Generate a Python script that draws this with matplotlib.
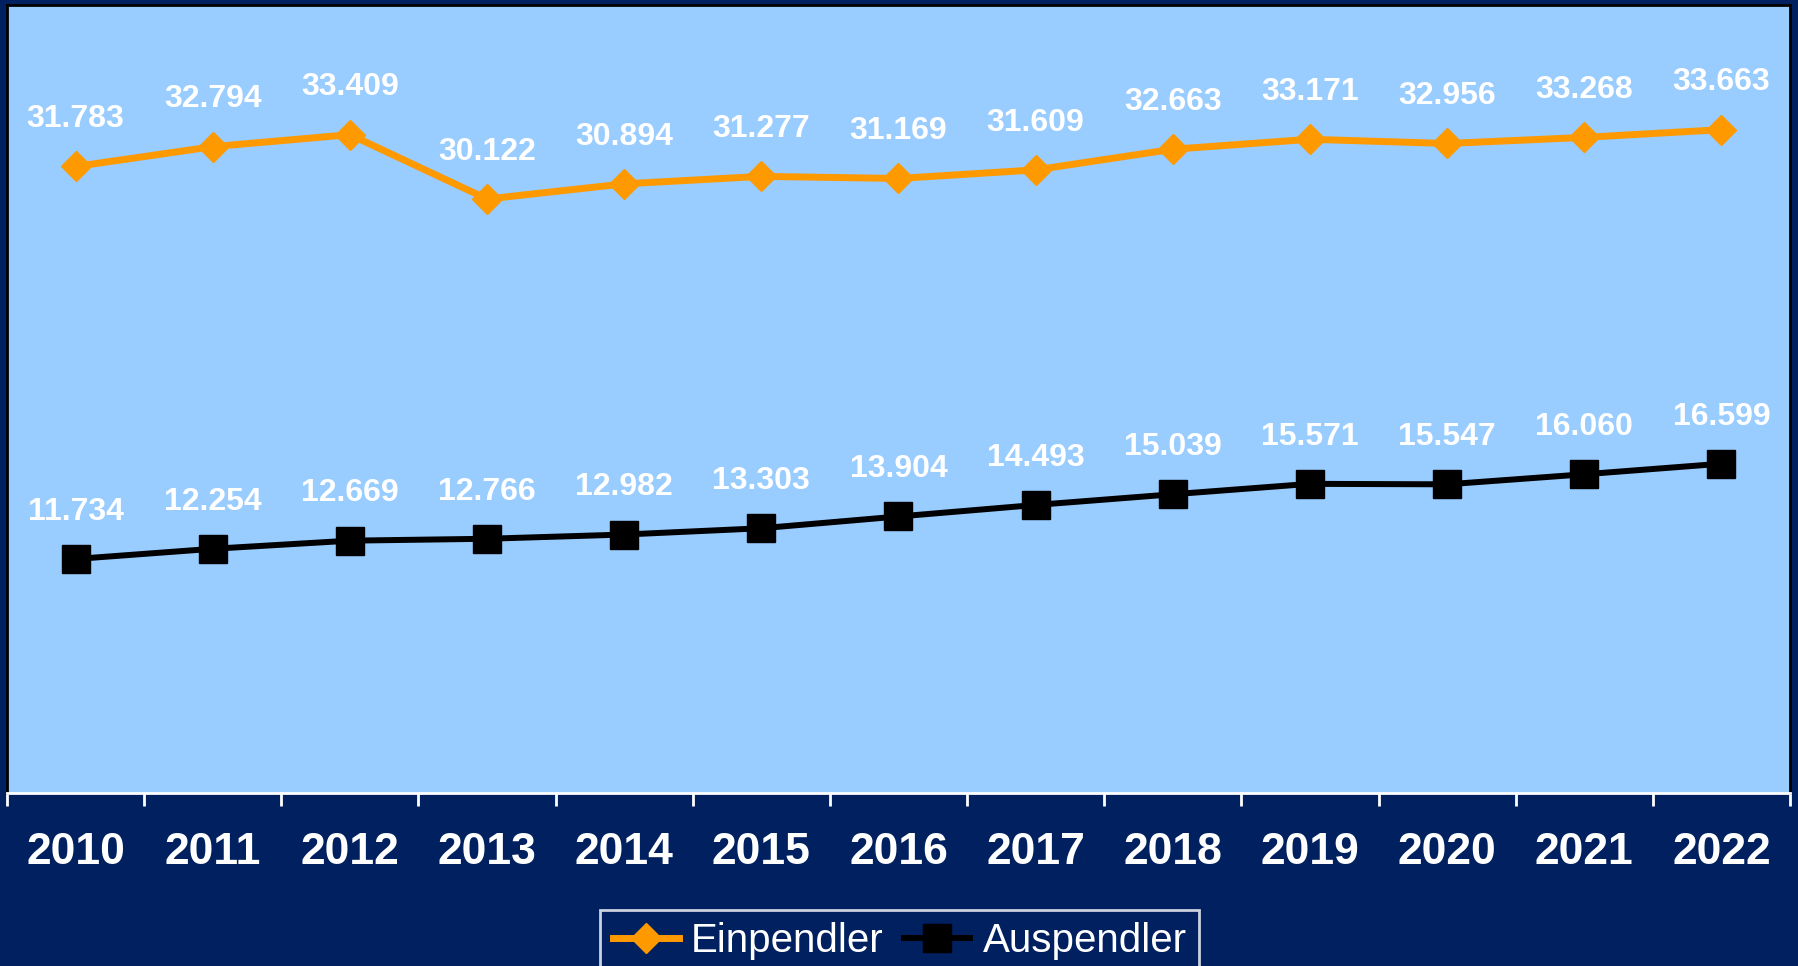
import numpy as np
import matplotlib.pyplot as plt

# Pendler data (Anzahl)
years = ["2010", "2011", "2012", "2013", "2014", "2015", "2016",
         "2017", "2018", "2019", "2020", "2021", "2022"]
einpendler = [31783, 32794, 33409, 30122, 30894, 31277, 31169,
              31609, 32663, 33171, 32956, 33268, 33663]
auspendler = [11734, 12254, 12669, 12766, 12982, 13303, 13904,
              14493, 15039, 15571, 15547, 16060, 16599]

navy = "#002060"
light_blue = "#99CCFF"
orange = "#FF9900"

plt.rcParams['font.family'] = ['Liberation Sans', 'DejaVu Sans']

fig = plt.figure(figsize=(17.99, 9.66), dpi=100, facecolor=navy)
ax = fig.add_axes([7 / 1799, 173 / 966, 1783 / 1799, 788 / 966])
ax.set_facecolor(light_blue)

x = np.arange(len(years))
ax.plot(x, einpendler, color=orange, lw=5, marker="D", ms=15.5,
        label="Einpendler", zorder=3)
ax.plot(x, auspendler, color="black", lw=4.3, marker="s", ms=20,
        label="Auspendler", zorder=3)

# data labels
for xi, v in zip(x, einpendler):
    ax.annotate(f"{v / 1000:.3f}", (xi, v), xytext=(0, 34), textcoords="offset points",
                ha="center", va="center", color="white", fontsize=23, fontweight="bold")
for xi, v in zip(x, auspendler):
    ax.annotate(f"{v / 1000:.3f}", (xi, v), xytext=(0, 34), textcoords="offset points",
                ha="center", va="center", color="white", fontsize=23, fontweight="bold")

ax.set_xlim(-0.5, len(years) - 0.5)
ax.set_ylim(-220, 40030)
ax.set_yticks([])

ax.set_xticks(x)
ax.set_xticklabels(years, fontsize=32, fontweight="bold", color="white")
ax.tick_params(axis="x", which="major", length=0, pad=28)
ax.set_xticks(np.arange(-0.5, len(years)), minor=True)
ax.tick_params(axis="x", which="minor", length=9, width=2, color="white")

for side in ["left", "top", "right"]:
    ax.spines[side].set_color("black")
    ax.spines[side].set_linewidth(2)
ax.spines["bottom"].set_color("white")
ax.spines["bottom"].set_linewidth(2)

leg = ax.legend(loc="upper center", bbox_to_anchor=(0.5, 1 - 910 / 966),
                bbox_transform=fig.transFigure, ncol=2, frameon=True,
                fontsize=29, handlelength=1.65, handletextpad=0.3,
                columnspacing=0.5, borderpad=0.3, borderaxespad=0,
                fancybox=False)
leg.get_frame().set_facecolor(navy)
leg.get_frame().set_edgecolor("white")
leg.get_frame().set_linewidth(2)
for t in leg.get_texts():
    t.set_color("white")

fig.savefig("out.png", dpi=100, facecolor=navy)
